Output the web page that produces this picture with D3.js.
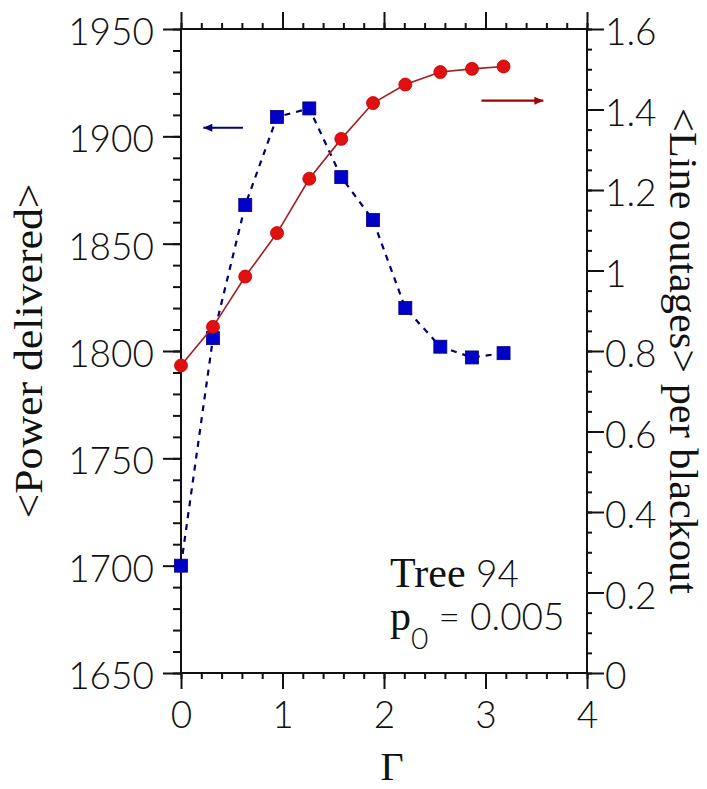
<!DOCTYPE html>
<html lang="en">
<head>
<meta charset="UTF-8">
<title>Power delivered vs Gamma</title>
<style>
  body { margin: 0; background: #fff; }
  .tick text, .num { font-family: Lato, "Liberation Sans", sans-serif; font-weight: 300; font-size: 37px; fill: #111; }
  .lbl { font-family: "Liberation Serif", serif; fill: #111; }
</style>
</head>
<body>
<div id="chart"></div>
<script src="https://d3js.org/d3.v7.min.js"></script>
<script>
// data
const gamma = [0, 0.315, 0.633, 0.946, 1.264, 1.579, 1.892, 2.21, 2.555, 2.867, 3.178];
const power = [1700, 1806, 1868, 1909, 1913, 1881, 1861, 1820, 1802, 1797, 1799];
const outages = [0.764, 0.860, 0.985, 1.093, 1.228, 1.327, 1.416, 1.462, 1.493, 1.501, 1.507];

const xTicks = [0, 1, 2, 3, 4];
const leftTicks = [1650, 1700, 1750, 1800, 1850, 1900, 1950];
const rightTicks = [0, 0.2, 0.4, 0.6, 0.8, 1, 1.2, 1.4, 1.6];

const width = 707, height = 789;
const margin = {left: 181, right: 120, top: 29, bottom: 116};

const svg = d3.select("#chart").append("svg")
    .attr("width", width)
    .attr("height", height)
    .style("background", "#fff");

const x = d3.scaleLinear().domain([0, 4]).range([margin.left, width - margin.right]);
const yL = d3.scaleLinear().domain([1650, 1950]).range([height - margin.bottom, margin.top]);
const yR = d3.scaleLinear().domain([0, 1.6]).range([height - margin.bottom, margin.top]);

const x0 = x.range()[0], x1 = x.range()[1], yb = yL.range()[0], yt = yL.range()[1];

// minor ticks
const xMinor = d3.range(0, 4.001, 0.2);
const lMinor = d3.range(1650, 1950.1, 10);
const rMinor = d3.range(0, 1.6001, 0.05);

function styleAxis(g) {
  g.select(".domain").remove();
  g.selectAll("line").attr("stroke", "#111").attr("stroke-width", 2);
}

// minor tick axes (no labels)
svg.append("g").attr("transform", `translate(0,${yb})`)
  .call(d3.axisBottom(x).tickValues(xMinor).tickSize(6).tickFormat(""))
  .call(styleAxis);
svg.append("g").attr("transform", `translate(0,${yt})`)
  .call(d3.axisTop(x).tickValues(xMinor).tickSize(6).tickFormat(""))
  .call(styleAxis);
svg.append("g").attr("transform", `translate(${x0},0)`)
  .call(d3.axisLeft(yL).tickValues(lMinor).tickSize(8).tickFormat(""))
  .call(styleAxis);
svg.append("g").attr("transform", `translate(${x1},0)`)
  .call(d3.axisRight(yR).tickValues(rMinor).tickSize(5).tickFormat(""))
  .call(styleAxis);

// major tick axes
svg.append("g").attr("transform", `translate(0,${yb})`)
  .call(d3.axisBottom(x).tickValues(xTicks).tickSize(16).tickPadding(13).tickFormat(d3.format("d")))
  .call(styleAxis);
svg.append("g").attr("transform", `translate(0,${yt})`)
  .call(d3.axisTop(x).tickValues(xTicks).tickSize(17).tickFormat(""))
  .call(styleAxis);
svg.append("g").attr("transform", `translate(${x0},0)`)
  .call(d3.axisLeft(yL).tickValues(leftTicks).tickSize(18).tickPadding(9).tickFormat(d3.format("d")))
  .call(styleAxis)
  .selectAll("text").attr("dy", "0.42em");
svg.append("g").attr("transform", `translate(${x1},0)`)
  .call(d3.axisRight(yR).tickValues(rightTicks).tickSize(17).tickPadding(1).tickFormat(d => d3.format("~g")(d)))
  .call(styleAxis)
  .selectAll("text").attr("dy", "0.42em");

// frame
svg.append("rect")
  .attr("x", x0).attr("y", yt)
  .attr("width", x1 - x0).attr("height", yb - yt)
  .attr("fill", "none").attr("stroke", "#111").attr("stroke-width", 2);

// blue series: power delivered (left axis)
const blue = gamma.map((g, i) => [g, power[i]]);
svg.append("path")
  .datum(blue)
  .attr("fill", "none")
  .attr("stroke", "#00006e")
  .attr("stroke-width", 2.2)
  .attr("stroke-dasharray", "6,6")
  .attr("d", d3.line().x(d => x(d[0])).y(d => yL(d[1])));
const sq = 13;
svg.append("g").selectAll("rect")
  .data(blue)
  .join("rect")
  .attr("x", d => x(d[0]) - sq / 2)
  .attr("y", d => yL(d[1]) - sq / 2)
  .attr("width", sq).attr("height", sq)
  .attr("fill", "#0000c8")
  .attr("stroke", "#000080").attr("stroke-width", 0.8);

// red series: line outages per blackout (right axis)
const red = gamma.map((g, i) => [g, outages[i]]);
svg.append("path")
  .datum(red)
  .attr("fill", "none")
  .attr("stroke", "#a02020")
  .attr("stroke-width", 1.6)
  .attr("d", d3.line().x(d => x(d[0])).y(d => yR(d[1])));
svg.append("g").selectAll("circle")
  .data(red)
  .join("circle")
  .attr("cx", d => x(d[0]))
  .attr("cy", d => yR(d[1]))
  .attr("r", 6.5)
  .attr("fill", "#e01010")
  .attr("stroke", "#c00000").attr("stroke-width", 0.8);

// arrows pointing to each series' axis
function arrow(xa, xb, yv, color, dir) {
  svg.append("line")
    .attr("x1", xa).attr("x2", xb).attr("y1", yv).attr("y2", yv)
    .attr("stroke", color).attr("stroke-width", 2.2);
  const tip = dir < 0 ? Math.min(xa, xb) : Math.max(xa, xb);
  svg.append("path")
    .attr("d", `M${tip},${yv} L${tip - dir * 9},${yv - 4} L${tip - dir * 9},${yv + 4} Z`)
    .attr("fill", color);
}
arrow(x(0.22), x(0.61), yL(1904), "#000080", -1);
arrow(x(2.96), x(3.57), yR(1.422), "#a00000", 1);

// annotation
const note = svg.append("text").attr("class", "lbl")
  .attr("x", x(2.06)).attr("y", yL(1690)).attr("font-size", 42);
note.append("tspan").text("Tree ");
note.append("tspan").attr("class", "num").text("94");

const note2 = svg.append("text").attr("class", "lbl")
  .attr("x", x(2.06)).attr("y", yL(1670)).attr("font-size", 42);
note2.append("tspan").text("p");
note2.append("tspan").attr("class", "num").style("font-size", "30px").attr("dy", 19).text("0");
note2.append("tspan").attr("class", "num").attr("dy", -19).text(" = 0.005");

// axis titles
svg.append("text").attr("class", "lbl")
  .attr("transform", `translate(42,${(yt + yb) / 2}) rotate(-90)`)
  .attr("text-anchor", "middle")
  .attr("font-size", 40)
  .attr("textLength", 335).attr("lengthAdjust", "spacingAndGlyphs")
  .text("<Power delivered>");

svg.append("text").attr("class", "lbl")
  .attr("transform", `translate(670,${(yt + yb) / 2}) rotate(90)`)
  .attr("text-anchor", "middle")
  .attr("font-size", 40)
  .attr("textLength", 486).attr("lengthAdjust", "spacingAndGlyphs")
  .text("<Line outages> per blackout");

svg.append("text").attr("class", "lbl")
  .attr("x", x(2.08)).attr("y", 780)
  .attr("text-anchor", "middle")
  .attr("font-size", 40)
  .text("Γ");
</script>
</body>
</html>
